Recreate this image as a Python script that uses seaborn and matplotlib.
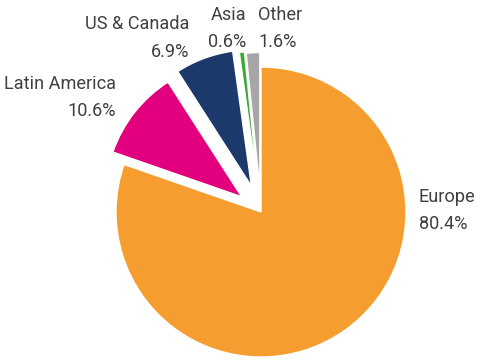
import matplotlib
matplotlib.use("Agg")
import matplotlib.pyplot as plt
import seaborn as sns

regions = ["Europe", "Latin America", "US & Canada", "Asia", "Other"]
shares = [80.4, 10.6, 6.9, 0.6, 1.6]
colors = ["#F59E2F", "#E3007E", "#1B3A6B", "#3AAA35", "#A6A6A6"]
explode = [0.0, 0.17, 0.19, 0.17, 0.16]

sns.set_theme(style="white")
plt.rcParams["font.family"] = ["Roboto", "DejaVu Sans"]

W, H = 480, 361
cx, cy, r = 261, 212, 145  # pixel geometry of pie

fig = plt.figure(figsize=(W / 100, H / 100), dpi=100)
ax = fig.add_axes([0, 0, 1, 1])
wedges, _ = ax.pie(shares, colors=colors, explode=explode, startangle=90,
                   counterclock=False,
                   wedgeprops=dict(linewidth=1.0, edgecolor="white"))
for w, e in zip(wedges, explode):
    if e > 0:
        w.set_radius(0.94)
ax.set_xlim(-cx / r, (W - cx) / r)
ax.set_ylim(-(H - cy) / r, cy / r)
ax.set_aspect("auto")
ax.axis("off")

def px(x, y):
    return (x - cx) / r, (cy - y) / r

label_pos = {
    "Europe": (419, 210.5, "left"),
    "Latin America": (116, 97.5, "right"),
    "US & Canada": (189, 38, "right"),
    "Asia": (246, 28.5, "right"),
    "Other": (258, 28.5, "left"),
}
for name, val in zip(regions, shares):
    x, y, ha = label_pos[name]
    tx, ty = px(x, y)
    ax.text(tx, ty, f"{name}\n{val:.1f}%", ha=ha, va="center", fontsize=13.1,
            color="#404040", linespacing=1.66)

fig.savefig("out.png", dpi=100)
